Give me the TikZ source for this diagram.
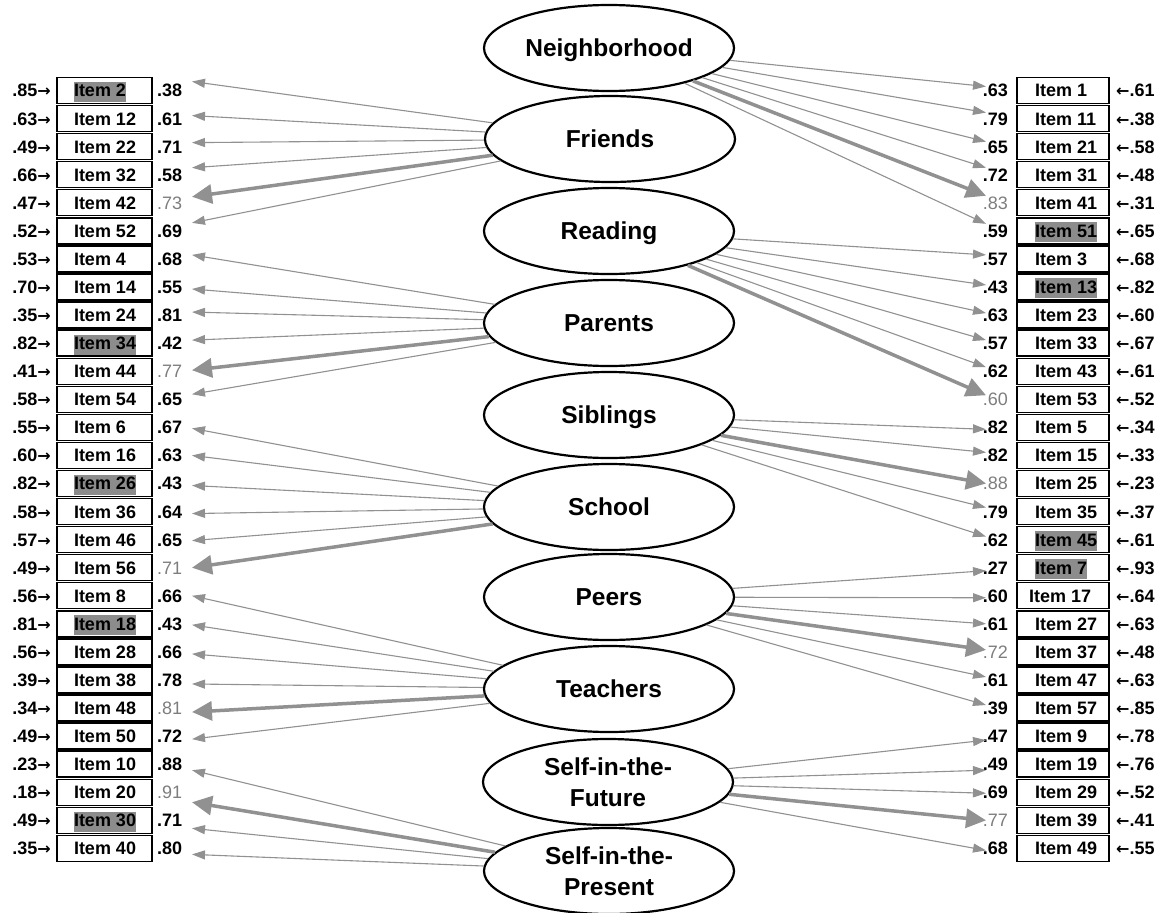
\documentclass[tikz,border=0pt]{standalone}
\usepackage{fontspec}
\setmainfont{Liberation Sans}
\newfontfamily\arrfont{DejaVu Sans}
\usetikzlibrary{shapes.geometric,arrows.meta}
\definecolor{arrgray}{RGB}{145,145,145}
\definecolor{labgray}{RGB}{125,125,125}
\definecolor{hlgray}{RGB}{140,140,140}
\newcommand\hlbox[1]{{\setlength{\fboxsep}{0pt}\colorbox{hlgray}{\rule[-5pt]{0pt}{20pt}#1}}}
\newcommand\itemtxt[2]{\ifnum#1=1 \hlbox{#2}\else #2\fi}
\newcommand\fsz{\fontsize{18}{21}\selectfont}
\newcommand\rarr{{\arrfont\fontsize{16}{18}\selectfont →}}
\newcommand\larr{{\arrfont\fontsize{16}{18}\selectfont ←}}
\begin{document}
\begin{tikzpicture}[x=1pt,y=-1pt,
  factor/.style={ellipse, draw, line width=2.2pt, fill=white, minimum width=250pt,
    minimum height=86pt, inner sep=0pt, text depth=0pt,
    font=\fontsize{24.5}{31}\selectfont\bfseries, align=center},
  itembox/.style={draw, line width=1.4pt, minimum width=95pt, minimum height=26pt,
    inner sep=0pt, text height=12.9pt, text depth=0pt, font=\fsz\bfseries},
  num/.style={inner sep=0pt, text height=12.9pt, text depth=0pt},
  lab0/.style={num, font=\fsz\bfseries, text=black},
  lab1/.style={num, font=\fsz, text=labgray},
  errlab/.style={num, font=\fsz\bfseries},
  ld0/.style={draw=arrgray, line width=1.1pt, -{Triangle[length=13pt,width=9pt]}, arrgray},
  ld1/.style={draw=arrgray, line width=3.5pt, -{Triangle[length=20pt,width=19pt]}, arrgray}]
\useasboundingbox (0,0) rectangle (1165,913);

% latent factors
\node[factor] (NB) at (609,48) {Neighborhood};
\node[factor] (FR) at (610,139) {Friends};
\node[factor] (RD) at (609,231) {Reading};
\node[factor] (PA) at (609,323) {Parents};
\node[factor] (SI) at (609,415) {Siblings};
\node[factor] (SC) at (609,507) {School};
\node[factor] (PE) at (609,597) {Peers};
\node[factor] (TE) at (609,689) {Teachers};
\node[factor] (SF) at (608,782) {Self-in-the-\\Future};
\node[factor] (SP) at (609,871) {Self-in-the-\\Present};

% left column
\foreach \ri/\rn/\re/\rl/\rh/\rt/\rf/\ro in {
  0/2/.85/.38/1/0/FR/-9, 1/12/.63/.61/0/0/FR/-3, 2/22/.49/.71/0/0/FR/-4,
  3/32/.66/.58/0/0/FR/-7, 4/42/.47/.73/0/1/FR/-6, 5/52/.52/.69/0/0/FR/-8,
  6/4/.53/.68/0/0/PA/-4, 7/14/.70/.55/0/0/PA/2, 8/24/.35/.81/0/0/PA/-3,
  9/34/.82/.42/1/0/PA/-3, 10/44/.41/.77/0/1/PA/-1, 11/54/.58/.65/0/0/PA/-5,
  12/6/.55/.67/0/0/SC/1, 13/16/.60/.63/0/0/SC/0, 14/26/.82/.43/1/0/SC/2,
  15/36/.58/.64/0/0/SC/2, 16/46/.57/.65/0/0/SC/1, 17/56/.49/.71/0/1/SC/0,
  18/8/.56/.66/0/0/TE/0, 19/18/.81/.43/1/0/TE/1, 20/28/.56/.66/0/0/TE/2,
  21/38/.39/.78/0/0/TE/4, 22/48/.34/.81/0/1/TE/4, 23/50/.49/.72/0/0/TE/3,
  24/10/.23/.88/0/0/SP/6, 25/20/.18/.91/0/1/SP/10, 26/30/.49/.71/1/0/SP/8,
  27/40/.35/.80/0/0/SP/6}{
  \pgfmathsetmacro\yy{90.5+28.07*\ri}
  \pgfmathsetmacro\ty{\yy+\ro}
  \node[itembox] (L\ri) at (104.5,\yy) {\makebox[61pt][l]{\itemtxt{\rh}{Item \rn}}};
  \node[errlab, anchor=east] (LE\ri) at (51,\yy) {\re\rarr};
  \node[lab\rt, anchor=west] (LL\ri) at (157,\yy) {\rl};
  \coordinate (LT\ri) at (192,\ty);
  \draw[ld\rt] (\rf) -- (LT\ri);
}

% right column
\foreach \ri/\rn/\rl/\re/\rh/\rt/\rf/\ro/\rw in {
  0/1/.63/.61/0/0/NB/-4/56, 1/11/.79/.38/0/0/NB/-6/56, 2/21/.65/.58/0/0/NB/-5/56,
  3/31/.72/.48/0/0/NB/-7/56, 4/41/.83/.31/0/1/NB/-7/56, 5/51/.59/.65/1/0/NB/-7/56,
  6/3/.57/.68/0/0/RD/-4/56, 7/13/.43/.82/1/0/RD/-2/56, 8/23/.63/.60/0/0/RD/-2/56,
  9/33/.57/.67/0/0/RD/-3/56, 10/43/.62/.61/0/0/RD/-4/56, 11/53/.60/.52/0/1/RD/-4/56,
  12/5/.82/.34/0/0/SI/2/56, 13/15/.82/.33/0/0/SI/-3/56, 14/25/.88/.23/0/1/SI/0/56,
  15/35/.79/.37/0/0/SI/-4/56, 16/45/.62/.61/1/0/SI/-3/56,
  17/7/.27/.93/1/0/PE/3/56, 18/17/.60/.64/0/0/PE/2/68, 19/27/.61/.63/0/0/PE/0/56,
  20/37/.72/.48/0/1/PE/-2/56, 21/47/.61/.63/0/0/PE/-3/56, 22/57/.39/.85/0/0/PE/-3/56,
  23/9/.47/.78/0/0/SF/4/56, 24/19/.49/.76/0/0/SF/6/56, 25/29/.69/.52/0/0/SF/1/56,
  26/39/.77/.41/0/1/SF/0/56, 27/49/.68/.55/0/0/SF/2/56}{
  \pgfmathsetmacro\yy{90.5+28.07*\ri}
  \pgfmathsetmacro\ty{\yy+\ro}
  \node[itembox, minimum width=92pt] (R\ri) at (1063,\yy) {\makebox[\rw pt][l]{\itemtxt{\rh}{Item \rn}}};
  \node[lab\rt, anchor=east] (RL\ri) at (1008,\yy) {\rl};
  \node[errlab, anchor=west] (RE\ri) at (1116,\yy) {\larr\re};
  \coordinate (RT\ri) at (986,\ty);
  \draw[ld\rt] (\rf) -- (RT\ri);
}
\end{tikzpicture}
\end{document}
